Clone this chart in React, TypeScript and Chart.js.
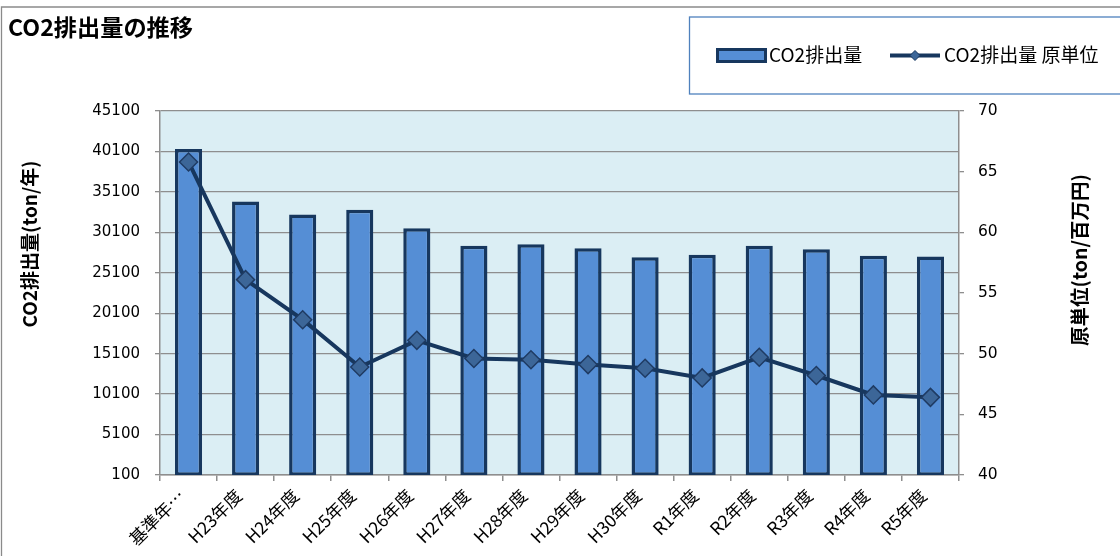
import React, { useEffect, useRef } from "react";
import { Chart, registerables } from "chart.js";

Chart.register(...registerables);

// ---- data ----
const categories = [
  "基準年…",
  "H23年度",
  "H24年度",
  "H25年度",
  "H26年度",
  "H27年度",
  "H28年度",
  "H29年度",
  "H30年度",
  "R1年度",
  "R2年度",
  "R3年度",
  "R4年度",
  "R5年度",
];
const co2Emissions = [40400, 33900, 32300, 32900, 30600, 28430, 28630, 28130, 27020, 27320, 28430, 28010, 27190, 27110];
const co2Intensity = [65.8, 56.1, 52.8, 48.9, 51.1, 49.6, 49.5, 49.1, 48.8, 48.0, 49.7, 48.2, 46.6, 46.4];
const leftAxisRange = [100, 45100];
const leftAxisStep = 5000;
const rightAxisRange = [40, 70];
const rightAxisStep = 5;
const chartTitle = "CO2排出量の推移";
const seriesNames = ["CO2排出量", "CO2排出量 原単位"];
const axisTitles = ["CO2排出量(ton/年)", "原単位(ton/百万円)"];

// ---- styles ----
const BAR_FILL = "#558ED5";
const NAVY = "#17375E";
const MARKER_FILL = "#3C6698";
const GRID = "#8E8E8E";
const PLOT_BG = "#DBEEF4";
const LATIN = '"DejaVu Sans"';
const CJK = '"Noto Sans CJK JP"';

const decorPlugin = {
  id: "decor",
  beforeDraw(chart: any) {
    const { ctx, width, height, chartArea } = chart;
    ctx.save();
    ctx.fillStyle = "#ffffff";
    ctx.fillRect(0, 0, width, height);
    ctx.fillStyle = PLOT_BG;
    ctx.fillRect(chartArea.left, chartArea.top, chartArea.right - chartArea.left, chartArea.bottom - chartArea.top);
    // outer chart border
    ctx.strokeStyle = "#8A8A8A";
    ctx.lineWidth = 1.3;
    ctx.beginPath();
    ctx.moveTo(1.5, height + 2);
    ctx.lineTo(1.5, 7);
    ctx.lineTo(width + 2, 7);
    ctx.stroke();
    ctx.restore();
  },
  afterDraw(chart: any) {
    const { ctx } = chart;
    ctx.save();
    ctx.fillStyle = "#000";
    ctx.textBaseline = "alphabetic";
    ctx.textAlign = "left";
    // title
    ctx.font = `bold 23.2px ${CJK}`;
    ctx.fillText(chartTitle, 8, 36);

    // legend box
    ctx.strokeStyle = "#4F81BD";
    ctx.lineWidth = 1.3;
    ctx.strokeRect(689.5, 17, 500, 77);

    // bar swatch
    ctx.fillStyle = BAR_FILL;
    ctx.fillRect(717.5, 49.5, 48, 12);
    ctx.strokeStyle = NAVY;
    ctx.lineWidth = 3;
    ctx.strokeRect(717.5, 49.5, 48, 12);

    // line swatch
    ctx.beginPath();
    ctx.moveTo(890, 55.5);
    ctx.lineTo(940, 55.5);
    ctx.lineWidth = 4;
    ctx.strokeStyle = NAVY;
    ctx.stroke();
    ctx.beginPath();
    ctx.moveTo(915, 50.5);
    ctx.lineTo(920, 55.5);
    ctx.lineTo(915, 60.5);
    ctx.lineTo(910, 55.5);
    ctx.closePath();
    ctx.fillStyle = MARKER_FILL;
    ctx.fill();
    ctx.lineWidth = 1;
    ctx.stroke();

    ctx.fillStyle = "#000";
    ctx.font = `19px ${CJK}`;
    ctx.fillText(seriesNames[0], 769, 62);
    ctx.fillText(seriesNames[1], 944, 62);

    // axis titles
    ctx.textBaseline = "middle";
    ctx.textAlign = "center";
    ctx.font = `bold 19px ${CJK}`;
    ctx.save();
    ctx.translate(30, 244);
    ctx.rotate(-Math.PI / 2);
    ctx.fillText(axisTitles[0], 0, 0);
    ctx.restore();
    ctx.save();
    ctx.font = `bold 19.5px ${CJK}`;
    ctx.translate(1080, 260);
    ctx.rotate(-Math.PI / 2);
    ctx.fillText(axisTitles[1], 0, 0);
    ctx.restore();
    ctx.restore();
  },
};

export default function App() {
  const canvasRef = useRef<HTMLCanvasElement | null>(null);

  useEffect(() => {
    const canvas = canvasRef.current;
    if (!canvas) return;
    const chart = new Chart(canvas, {
      type: "bar",
      data: {
        labels: categories,
        datasets: [
          {
            type: "bar",
            label: seriesNames[0],
            data: co2Emissions,
            yAxisID: "y",
            backgroundColor: BAR_FILL,
            borderColor: NAVY,
            borderWidth: 3.5,
            borderSkipped: false,
            barPercentage: 0.475,
            categoryPercentage: 1,
            order: 2,
          } as any,
          {
            type: "line",
            label: seriesNames[1],
            data: co2Intensity,
            yAxisID: "y1",
            borderColor: NAVY,
            borderWidth: 4,
            tension: 0,
            pointStyle: "rectRot",
            pointRadius: 9,
            pointBackgroundColor: MARKER_FILL,
            pointBorderColor: "#1F3B63",
            pointBorderWidth: 1.5,
            order: 1,
          } as any,
        ],
      },
      options: {
        responsive: false,
        animation: false,
        devicePixelRatio: 1,
        layout: { padding: { top: 111, left: 0, right: 0, bottom: 0 } },
        plugins: {
          legend: { display: false },
          tooltip: { enabled: false },
          title: { display: false },
        },
        scales: {
          x: {
            type: "category",
            offset: true,
            grid: {
              offset: true,
              drawOnChartArea: false,
              drawTicks: true,
              tickLength: 6,
              color: GRID,
              lineWidth: 1.5,
            },
            border: { display: true, color: GRID, width: 1.5 },
            ticks: {
              autoSkip: false,
              maxRotation: 45,
              minRotation: 45,
              padding: 4,
              labelOffset: -7,
              color: "#000",
              font: { family: CJK, size: 17.5 },
            },
            afterFit: (s: any) => {
              s.height = 81;
            },
          },
          y: {
            type: "linear",
            position: "left",
            min: leftAxisRange[0],
            max: leftAxisRange[1],
            ticks: {
              stepSize: leftAxisStep,
              padding: 15,
              color: "#000",
              font: { family: LATIN, size: 15 },
              callback: (v: any) => String(v),
            },
            grid: { color: GRID, lineWidth: 1.3, drawTicks: true, tickLength: 5 },
            border: { display: true, color: GRID, width: 1.5 },
            afterFit: (s: any) => {
              s.width = 160;
            },
          },
          y1: {
            type: "linear",
            position: "right",
            min: rightAxisRange[0],
            max: rightAxisRange[1],
            ticks: {
              stepSize: rightAxisStep,
              padding: 14,
              color: "#000",
              font: { family: LATIN, size: 15.5 },
              callback: (v: any) => String(v),
            },
            grid: { drawOnChartArea: false, color: GRID, lineWidth: 1.3, drawTicks: true, tickLength: 5 },
            border: { display: true, color: GRID, width: 1.5 },
            afterFit: (s: any) => {
              s.width = 161;
            },
          },
        },
      } as any,
      plugins: [decorPlugin],
    });
    if ((document as any).fonts && (document as any).fonts.ready) {
      (document as any).fonts.ready.then(() => chart.update());
    }
    return () => chart.destroy();
  }, []);

  return (
    <div style={{ position: "fixed", left: 0, top: 0, width: 1120, height: 556, background: "#fff" }}>
      <canvas ref={canvasRef} width={1120} height={556} style={{ display: "block", width: 1120, height: 556 }} />
    </div>
  );
}
